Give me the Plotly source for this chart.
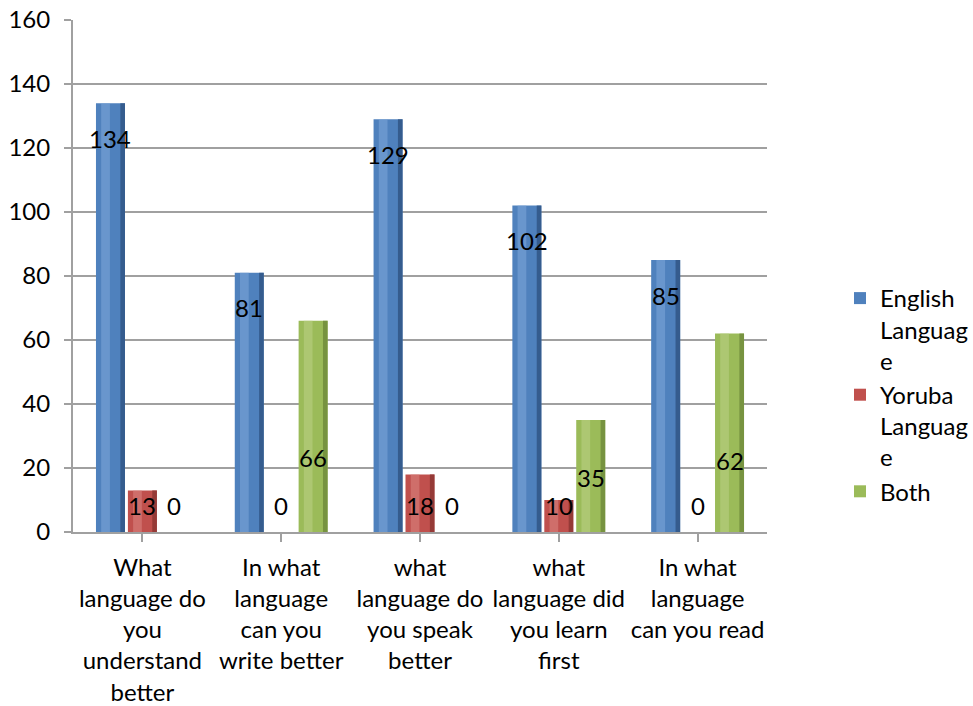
import plotly.graph_objects as go

categories = [
    "What<br>language do<br>you<br>understand<br>better",
    "In what<br>language<br>can you<br>write better",
    "what<br>language do<br>you speak<br>better",
    "what<br>language did<br>you learn<br>first",
    "In what<br>language<br>can you read",
]
english = [134, 81, 129, 102, 85]
yoruba = [13, 0, 18, 10, 0]
both = [0, 66, 0, 35, 62]
series_names = ["English<br>Languag<br>e", "Yoruba<br>Languag<br>e", "Both"]
y_ticks = [0, 20, 40, 60, 80, 100, 120, 140, 160]

FONT = "Lato, 'Noto Sans', sans-serif"
FS = 24
palettes = [
    ("#4F81BD", "#7FA7DA", "#2E5382"),
    ("#C0504D", "#DA8784", "#8A3532"),
    ("#9BBB59", "#BBD286", "#6E8A3A"),
]
all_series = [english, yoruba, both]
bar_w = 0.209
step = 0.23
xs = list(range(len(categories)))

fig = go.Figure()
for si, (vals, name, (mid, light, dark)) in enumerate(zip(all_series, series_names, palettes)):
    center = (si - 1) * step
    left = center - bar_w / 2
    fig.add_trace(go.Bar(
        x=xs, y=vals, name=name, width=bar_w, offset=left,
        marker=dict(color=mid, line=dict(width=0)),
        legendgroup=name, showlegend=True, hoverinfo="skip",
    ))
    fig.add_trace(go.Bar(
        x=xs, y=vals, width=bar_w * 0.3, offset=left + bar_w * 0.18,
        marker=dict(color=light, line=dict(width=0), opacity=0.55),
        legendgroup=name, showlegend=False, hoverinfo="skip",
    ))
    fig.add_trace(go.Bar(
        x=xs, y=vals, width=bar_w * 0.16, offset=left + bar_w * 0.84,
        marker=dict(color=dark, line=dict(width=0), opacity=0.8),
        legendgroup=name, showlegend=False, hoverinfo="skip",
    ))

annotations = []
lab_font = dict(size=FS, color="black", family=FONT)
for i in xs:
    annotations.append(dict(x=i - step, y=english[i], yshift=-35, text=str(english[i]),
                            showarrow=False, font=lab_font))
    annotations.append(dict(x=i, y=0, yshift=27, text=str(yoruba[i]),
                            showarrow=False, font=lab_font))
    by = 0 if both[i] == 0 else both[i] * 0.2 + 10
    annotations.append(dict(x=i + step, y=by, yshift=27 if both[i] == 0 else 0, text=str(both[i]),
                            showarrow=False, font=lab_font))

fig.update_layout(
    width=973, height=706,
    margin=dict(l=73, r=0, t=20, b=174, autoexpand=False),
    barmode="overlay",
    plot_bgcolor="white", paper_bgcolor="white",
    font=dict(family=FONT, size=FS, color="black"),
    annotations=annotations,
    legend=dict(x=1.0, y=0.5, yanchor="top", xanchor="right", valign="top",
                font=dict(size=FS, family=FONT), tracegroupgap=0,
                itemwidth=30, bgcolor="rgba(0,0,0,0)"),
)
fig.update_xaxes(
    domain=[0, (767 - 73) / 900],
    tickmode="array", tickvals=xs, ticktext=categories,
    range=[-0.5, len(categories) - 0.5], automargin=False,
    showline=True, linecolor="#A0A0A0", linewidth=2,
    ticks="outside", ticklen=8, tickcolor="#A0A0A0", tickwidth=2,
    ticklabelstandoff=5,
    showgrid=False, tickangle=0,
)
fig.update_yaxes(
    range=[0, 160], tickvals=y_ticks, automargin=False,
    showline=True, linecolor="#A0A0A0", linewidth=2,
    ticks="outside", ticklen=7, tickcolor="#A0A0A0", tickwidth=2,
    ticklabelstandoff=9,
    showgrid=True, gridcolor="#A0A0A0", gridwidth=2, zeroline=False,
)

fig.write_html("out.html")
